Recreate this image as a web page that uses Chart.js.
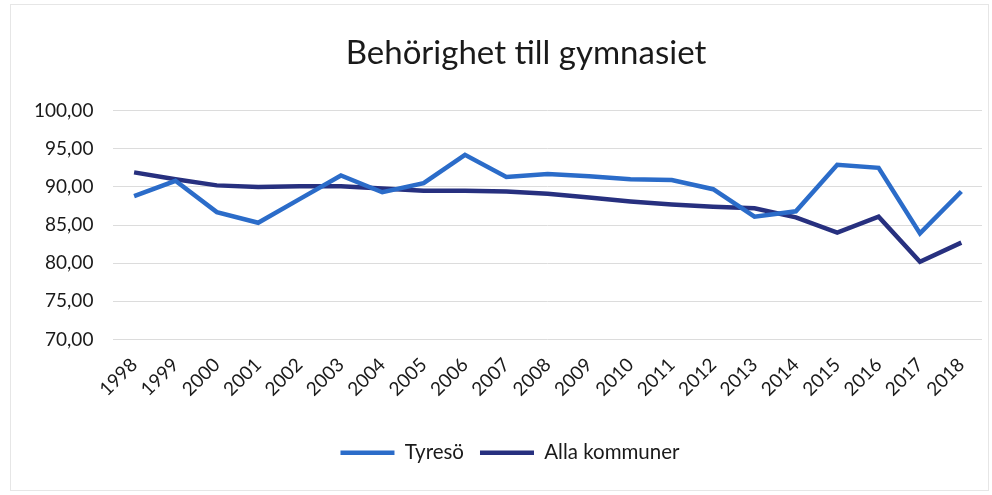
<!DOCTYPE html>
<html>
<head>
<meta charset="utf-8">
<script src="https://cdn.jsdelivr.net/npm/chart.js@4/dist/chart.umd.min.js"></script>
<style>
  html, body { margin: 0; padding: 0; background: #fff; }
  #wrap { width: 992px; height: 495px; position: relative; }
</style>
</head>
<body>
<div id="wrap"><canvas id="chart" width="992" height="495"></canvas></div>
<script>
const years = ['1998', '1999', '2000', '2001', '2002', '2003', '2004', '2005', '2006', '2007',
  '2008', '2009', '2010', '2011', '2012', '2013', '2014', '2015', '2016', '2017', '2018'];
const tyreso = [88.8, 90.8, 86.7, 85.3, 88.4, 91.5, 89.3, 90.5, 94.2, 91.3,
  91.7, 91.4, 91.0, 90.9, 89.7, 86.1, 86.8, 92.9, 92.5, 83.9, 89.4];
const allaKommuner = [91.9, 91.0, 90.2, 90.0, 90.1, 90.1, 89.8, 89.5, 89.5, 89.4,
  89.1, 88.6, 88.1, 87.7, 87.4, 87.2, 86.0, 84.0, 86.1, 80.2, 82.7];
const yTicks = [70, 75, 80, 85, 90, 95, 100];

const font = 'Lato, "Open Sans", sans-serif';

// ljus ram runt diagrammet
const frame = {
  id: 'frame',
  beforeDraw(chart) {
    const ctx = chart.ctx;
    ctx.save();
    ctx.fillStyle = '#fff';
    ctx.fillRect(0, 0, chart.width, chart.height);
    ctx.strokeStyle = '#e6e6e6';
    ctx.lineWidth = 1;
    ctx.strokeRect(10.5, 4.5, chart.width - 14, chart.height - 9);
    ctx.restore();
  }
};

// titel och förklaring sitter lite till höger i originalet
const nudge = {
  id: 'nudge',
  afterLayout(chart) {
    chart.titleBlock.left += 28;
    chart.titleBlock.right += 28;
    chart.legend.left += 12;
    chart.legend.right += 12;
  }
};

new Chart(document.getElementById('chart'), {
  type: 'line',
  data: {
    labels: years,
    datasets: [
      {
        label: 'Tyresö',
        data: tyreso,
        borderColor: '#2b6cc9',
        backgroundColor: '#2b6cc9',
        borderWidth: 4.5,
        pointRadius: 0,
        tension: 0
      },
      {
        label: 'Alla kommuner',
        data: allaKommuner,
        borderColor: '#27307f',
        backgroundColor: '#27307f',
        borderWidth: 4.5,
        pointRadius: 0,
        tension: 0
      }
    ]
  },
  options: {
    responsive: false,
    animation: false,
    layout: { padding: { left: 14, right: 10, top: 0, bottom: 22 } },
    plugins: {
      title: {
        display: true,
        text: 'Behörighet till gymnasiet',
        color: '#1a1a1a',
        font: { family: font, size: 33, weight: 'normal' },
        padding: { top: 34, bottom: 37 }
      },
      legend: {
        position: 'bottom',
        labels: {
          usePointStyle: true,
          pointStyle: 'line',
          pointStyleWidth: 54,
          color: '#1a1a1a',
          font: { family: font, size: 20.5 },
          padding: 16
        }
      },
      tooltip: { enabled: false }
    },
    scales: {
      x: {
        offset: true,
        grid: { display: false, drawTicks: false },
        border: { display: false },
        afterFit(axis) { axis.height = 87; },
        ticks: {
          color: '#1a1a1a',
          font: { family: font, size: 19 },
          minRotation: 45,
          maxRotation: 45,
          padding: 14
        }
      },
      y: {
        min: 70,
        max: 100,
        afterBuildTicks(axis) {
          axis.ticks = yTicks.map(v => ({ value: v }));
        },
        grid: { color: '#dcdcdc', lineWidth: 1, drawTicks: false },
        border: { display: false },
        ticks: {
          color: '#1a1a1a',
          font: { family: font, size: 19 },
          padding: 20,
          callback: v => v.toFixed(2).replace('.', ',')
        }
      }
    }
  },
  plugins: [frame, nudge]
});
</script>
</body>
</html>
